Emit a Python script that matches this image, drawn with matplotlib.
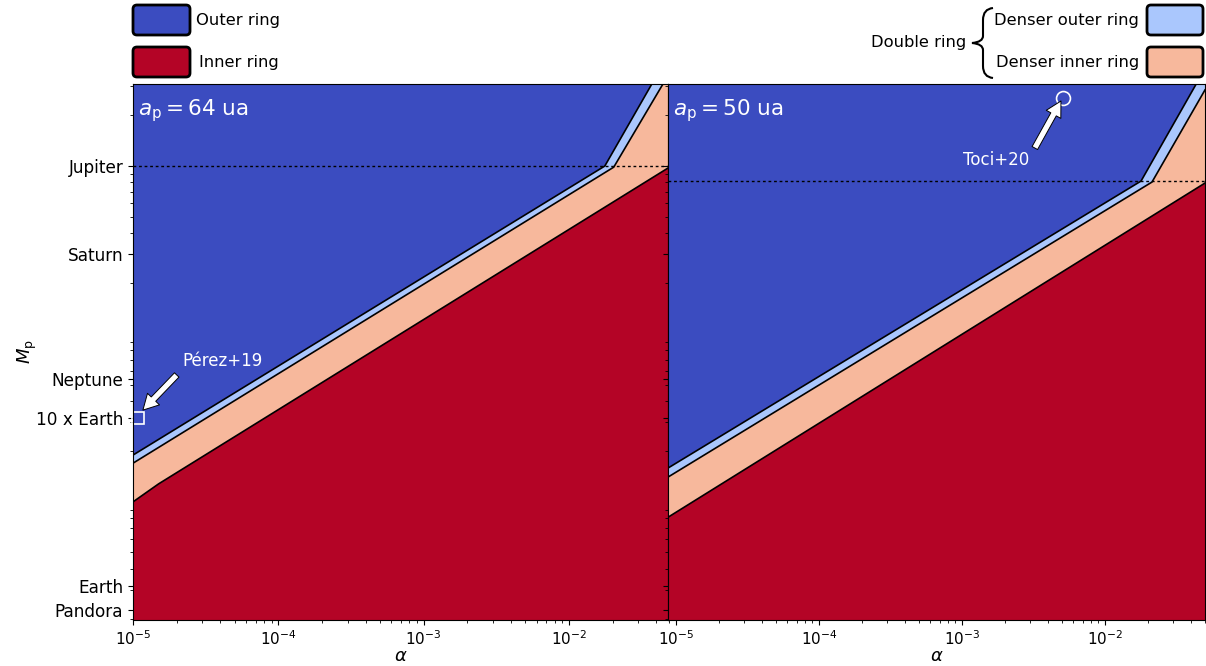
import numpy as np
import matplotlib; matplotlib.use("Agg"); import matplotlib.pyplot as plt
from matplotlib.patches import FancyBboxPatch, PathPatch
from matplotlib.path import Path
from matplotlib.ticker import NullFormatter

# ---- colours (coolwarm ends + mid tones) ----
C_OUTER = "#3b4cc0"; C_INNER = "#b40426"; C_DOUT = "#aac7fd"; C_DIN = "#f7b89c"

# ---- y ticks: planet masses in Jupiter masses ----
ytick_names = ["Jupiter", "Saturn", "Neptune", "10 x Earth", "Earth", "Pandora"]
ytick_vals = [1.0, 0.299, 0.054, 0.0315, 0.00315, 0.00227]
ylims = (0.00198, 3.08)

# ---- left panel: a_p = 64 ua ----
L_xlim = (1.0e-5, 4.82e-2)
L_b1_alpha = [1.0e-5, 1.77e-2, 3.73e-2]   # outer / denser-outer
L_b1_mass = [0.0190, 1.0, 3.08]
L_b2_alpha = [1.0e-5, 2.04e-2, 4.45e-2]   # denser-outer / denser-inner
L_b2_mass = [0.0170, 0.985, 3.08]
L_b3_alpha = [1.0e-5, 1.5e-5, 4.82e-2]    # denser-inner / inner
L_b3_mass = [0.0100, 0.0128, 0.973]
L_hline = 1.0

# ---- right panel: a_p = 50 ua ----
R_xlim = (8.8e-6, 5.0e-2)
R_b1_alpha = [8.8e-6, 1.786e-2, 4.34e-2]
R_b1_mass = [0.0159, 0.814, 3.08]
R_b2_alpha = [8.8e-6, 2.13e-2, 5.0e-2]
R_b2_mass = [0.01405, 0.803, 2.84]
R_b3_alpha = [8.8e-6, 5.0e-2]
R_b3_mass = [0.0081, 0.792]
R_hline = 0.814

# ---- observed systems ----
perez_pt = (1.08e-5, 0.0315); perez_tail = (2.0e-5, 0.057); perez_head = (1.17e-5, 0.0352); perez_txt = (2.2e-5, 0.069)
toci_pt = (5.08e-3, 2.54); toci_tail = (3.23e-3, 1.28); toci_head = (4.92e-3, 2.44); toci_txt = (1.73e-3, 1.09)

W, H = 1206, 666
fig = plt.figure(figsize=(W/100, H/100), dpi=100)
axL = fig.add_axes([133/W, 46/H, 535/W, 536/H])
axR = fig.add_axes([668/W, 46/H, 537/W, 536/H])

def panel(ax, xlim, b1a, b1m, b2a, b2m, b3a, b3m, hline, label):
    x0, x1 = xlim; y0, y1 = ylims
    ax.set_xscale("log"); ax.set_yscale("log")
    ax.fill([x0, x1, x1, x0], [y0, y0, y1, y1], color=C_OUTER, lw=0)
    ax.fill(b1a + [x1, x1, x0], b1m + [y1, y0, y0], color=C_DOUT, lw=0)
    ax.fill(b2a + [x1, x1, x0], b2m + [y1, y0, y0], color=C_DIN, lw=0)
    ax.fill(b3a + [x1, x0], b3m + [y0, y0], color=C_INNER, lw=0)
    for a, m in [(b1a, b1m), (b2a, b2m), (b3a, b3m)]:
        ax.plot(a, m, color="black", lw=1.2)
    ax.axhline(hline, color="black", lw=1, ls=(0, (2, 2)))
    ax.set_xlim(xlim); ax.set_ylim(ylims)
    ax.set_xlabel(r"$\alpha$", fontsize=13, labelpad=-1)
    ax.text(0.01, 0.975, label, transform=ax.transAxes, color="white", fontsize=15.5, va="top", ha="left")
    ax.tick_params(axis="x", labelsize=11)
    ax.tick_params(axis="y", labelsize=12.2)
    ax.set_yticks(ytick_vals)
    ax.yaxis.set_minor_formatter(NullFormatter())

panel(axL, L_xlim, L_b1_alpha, L_b1_mass, L_b2_alpha, L_b2_mass, L_b3_alpha, L_b3_mass, L_hline,
      r"$a_\mathrm{p} = 64$ ua")
panel(axR, R_xlim, R_b1_alpha, R_b1_mass, R_b2_alpha, R_b2_mass, R_b3_alpha, R_b3_mass, R_hline,
      r"$a_\mathrm{p} = 50$ ua")
axL.set_yticklabels(ytick_names)
axR.set_yticklabels([])
axL.set_ylabel(r"$M_\mathrm{p}$", fontsize=13, labelpad=-2)

arw = dict(facecolor="white", edgecolor="black", width=4.5, headwidth=12, headlength=11, shrink=0.0, lw=0.7)
axL.plot(*perez_pt, marker="s", ms=9, mfc="none", mec="white", mew=1.2, clip_on=False)
axL.annotate("", xy=perez_head, xytext=perez_tail, arrowprops=arw)
axL.text(*perez_txt, "Pérez+19", color="white", fontsize=12, va="center", ha="left")
axR.plot(*toci_pt, marker="o", ms=10, mfc="none", mec="white", mew=1.2)
axR.annotate("", xy=toci_head, xytext=toci_tail, arrowprops=arw)
axR.text(*toci_txt, "Toci+20", color="white", fontsize=12, va="center", ha="center")

# ---- custom legend (pixel layout) ----
T = fig.dpi_scale_trans
def box(x, y, w, h, c):
    fig.patches.append(FancyBboxPatch((x/100, (H - y - h)/100), w/100, h/100,
                       boxstyle="round,pad=0,rounding_size=0.04", fc=c, ec="black", lw=2, transform=T))
def txt(x, y, s, ha="left"):
    fig.text(x/100, (H - y)/100, s, transform=T, fontsize=11.8, ha=ha, va="center")

box(133, 5, 57, 30, C_OUTER); txt(196, 20, "Outer ring")
box(133, 47, 57, 30, C_INNER); txt(199, 62, "Inner ring")
box(1147, 5, 56, 30, C_DOUT); txt(1139, 20, "Denser outer ring", ha="right")
box(1147, 47, 56, 30, C_DIN); txt(1139, 62, "Denser inner ring", ha="right")
txt(966, 43, "Double ring", ha="right")

bx = [(993, 8), (983, 9), (983, 20), (983, 36), (983, 42), (972, 43),
      (983, 44), (983, 50), (983, 66), (983, 77), (993, 78)]
codes = [Path.MOVETO, Path.CURVE3, Path.CURVE3, Path.LINETO, Path.CURVE3, Path.CURVE3,
         Path.CURVE3, Path.CURVE3, Path.LINETO, Path.CURVE3, Path.CURVE3]
brace = Path([(x/100, (H - y)/100) for x, y in bx], codes)
fig.patches.append(PathPatch(brace, fc="none", ec="black", lw=1.5, transform=T))

fig.savefig("out.png", dpi=100)
